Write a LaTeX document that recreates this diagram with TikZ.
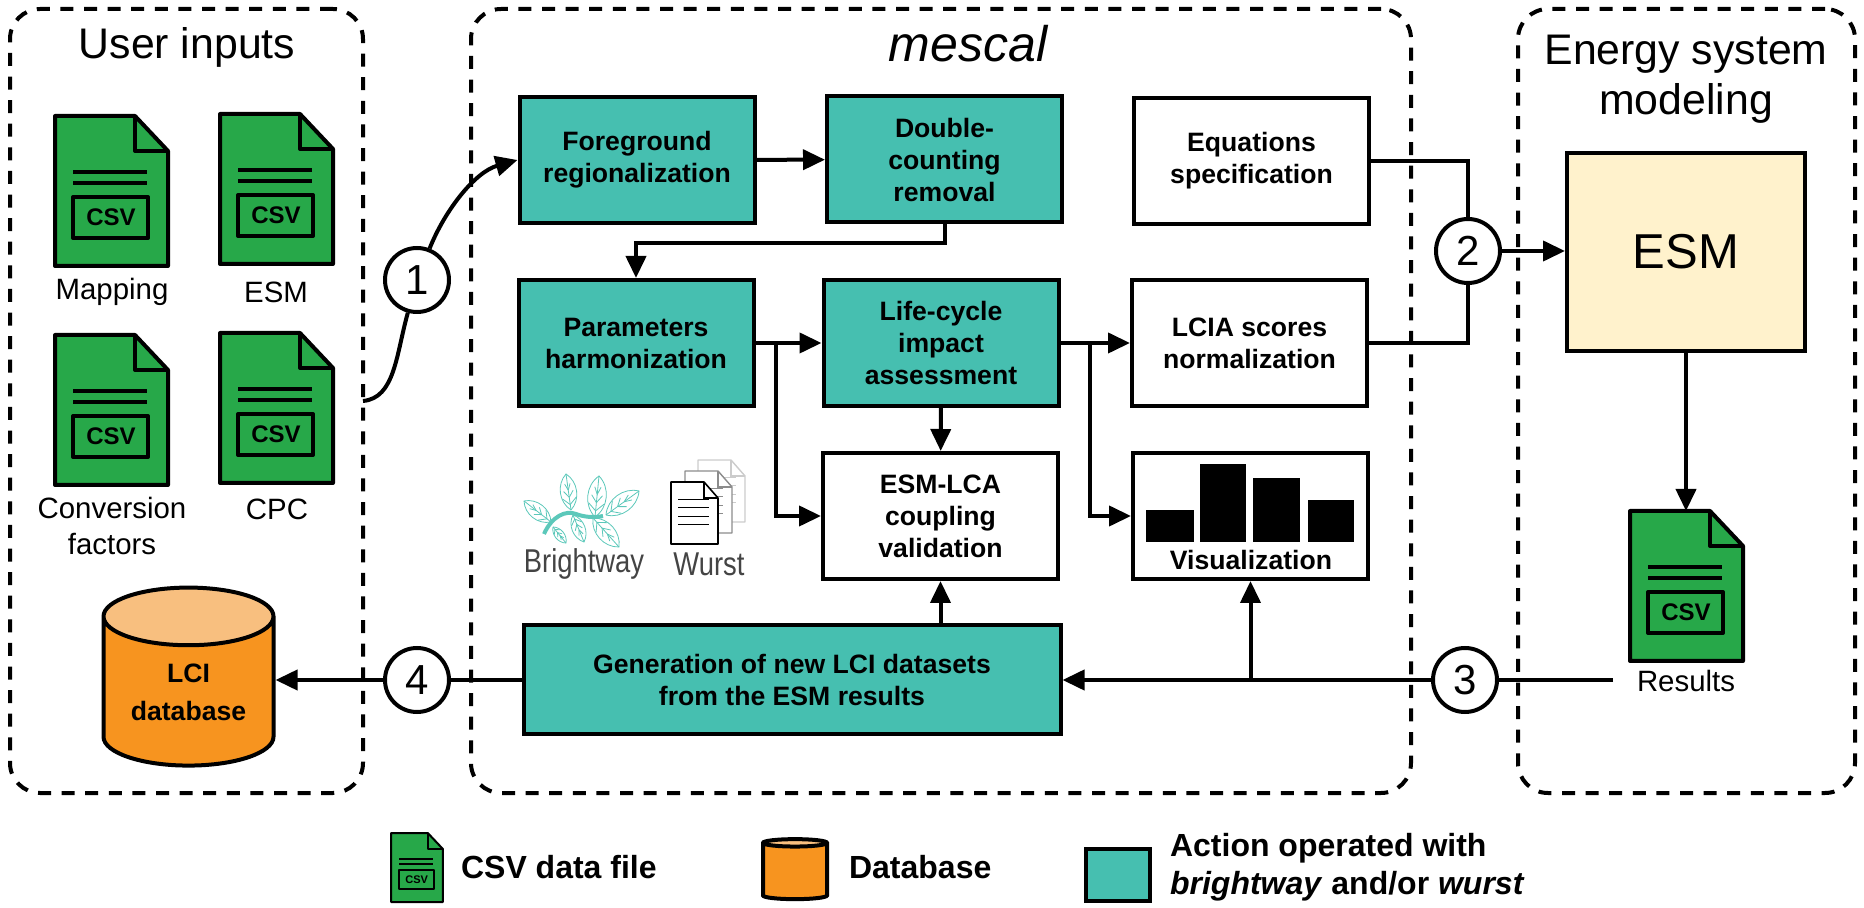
\documentclass[tikz,border=0pt]{standalone}
\usepackage{fontspec}
\setmainfont{Liberation Sans}
\usetikzlibrary{arrows.meta,shapes.geometric,calc}

\definecolor{filegreen}{HTML}{27A849}
\definecolor{actionteal}{HTML}{46BFB0}
\definecolor{dborange}{HTML}{F7941F}
\definecolor{dbtop}{HTML}{F8BF7F}
\definecolor{esmcream}{HTML}{FFF2CC}
\definecolor{leafteal}{HTML}{5CC8BA}
\definecolor{logotext}{HTML}{444444}

\tikzset{
    lw/.style={line width=2pt},
    arr/.style={lw, -{Triangle[length=11pt,width=10pt]}},
    link/.style={lw},
    groupbox/.style={draw, line width=2pt, dash pattern=on 6.5pt off 5.3pt, rounded corners=15pt},
    boxtext/.style={font=\fontsize{13.3pt}{16pt}\selectfont\bfseries, align=center},
    plainbox/.style={draw, lw, fill=white, boxtext, minimum width=117.5pt, minimum height=63pt, inner sep=0pt},
    actionbox/.style={plainbox, fill=actionteal},
    stepnum/.style={circle, draw, lw, fill=white, minimum size=32pt, inner sep=0pt, font=\fontsize{21pt}{25pt}\selectfont},
    title/.style={font=\fontsize{21.4pt}{25pt}\selectfont, align=center},
    filelabel/.style={font=\fontsize{14.7pt}{18pt}\selectfont, align=center},
    legendtext/.style={font=\fontsize{16pt}{19.2pt}\selectfont\bfseries, align=left, anchor=west},
    logolabel/.style={font=\fontsize{16.5pt}{18pt}\selectfont, text=logotext, xscale=0.83, transform shape},
    dbshape/.style={cylinder, shape border rotate=90, draw, lw, aspect=0.5, cylinder uses custom fill,
        cylinder body fill=dborange, cylinder end fill=dbtop, inner sep=0pt, boxtext},
    leafline/.style={leafteal, line width=0.4pt},
    pics/csvfile/.style={code={
        \draw[fill=filegreen, line join=round] (0,0) -- (80,0) -- (113,35) -- (113,150) -- (0,150) -- cycle;
        \draw[line join=round] (80,0) -- (80,35) -- (113,35);
        \draw (18,56) -- (92,56);
        \draw (18,67) -- (92,67);
        \draw[line join=round] (18,81) rectangle (93,122);
        \node[transform shape, font=\fontsize{12pt}{14pt}\selectfont\bfseries, inner sep=0pt] (-csv) at (56,101) {CSV};
        \coordinate (-top) at (56,0);
    }},
    pics/notepage/.style={code={
        \draw[fill=white, line join=round] (0,0) -- (33,0) -- (47,16) -- (47,62) -- (0,62) -- cycle;
        \draw (33,0) -- (33,16) -- (47,16);
        \foreach \ly in {17,25,34,42}{
            \draw[line width=0.4pt] (7,\ly) -- (38,\ly);
        }
    }},
}

\begin{document}
\begin{tikzpicture}[x=0.5pt,y=-0.5pt]
    \useasboundingbox (0,0) rectangle (1864,908);

    % Dashed groups
    \node[groupbox, minimum width=176.5pt, minimum height=392pt] (userbox) at (186.5,401) {};
    \node[groupbox, minimum width=470pt, minimum height=392pt] (mescalbox) at (941,401) {};
    \node[groupbox, minimum width=168.5pt, minimum height=392pt] (esmsysbox) at (1686.5,401) {};
    \node[title] (usertitle) at (187,47) {User inputs};
    \node[title, font=\fontsize{25pt}{29pt}\selectfont\itshape] (mescaltitle) at (968,44) {mescal};
    \node[title] (esmtitle) at (1686,79) {Energy system\\modeling};

    % Input files
    \pic[lw] (mapfile) at (55,116) {csvfile};
    \pic[lw] (esmfile) at (220,114) {csvfile};
    \pic[lw] (convfile) at (55,335) {csvfile};
    \pic[lw] (cpcfile) at (220,333) {csvfile};
    \node[filelabel] (maplabel) at (112,292) {Mapping};
    \node[filelabel] (esmlabel) at (276,292) {ESM};
    \node[filelabel] (convlabel) at (112,526) {Conversion\\factors};
    \node[filelabel] (cpclabel) at (277,509) {CPC};

    % Process boxes
    \node[actionbox] (fore) at (637,160) {Foreground\\regionalization};
    \node[actionbox] (dbl) at (944.5,159.5) {Double-\\counting\\removal};
    \node[plainbox] (eqs) at (1251.5,161) {Equations\\specification};
    \node[actionbox] (param) at (636,343) {Parameters\\harmonization};
    \node[actionbox] (impact) at (941,343) {Life-cycle\\impact\\assessment};
    \node[plainbox] (scores) at (1249.5,343) {LCIA scores\\normalization};
    \node[plainbox] (coupling) at (940.5,516) {ESM-LCA\\coupling\\validation};
    \node[plainbox] (vis) at (1250.5,516) {};
    \node[actionbox, minimum width=268.5pt, minimum height=54.5pt] (gen) at (792,680) {Generation of new LCI datasets\\from the ESM results};

    % Bars of the chart
    \fill (1146,510) rectangle (1194,542);
    \fill (1200,464) rectangle (1246,542);
    \fill (1253,478) rectangle (1300,542);
    \fill (1308,500) rectangle (1354,542);
    \node[boxtext] (vislabel) at (1251,560) {Visualization};

    % Logos
    \foreach \bx/\by/\tx/\ty in {551/522/524/501, 571/510/566/474, 595/517/599/476, 606/515/639/491,
                                 593/518/619/547, 573/515/584/542, 553/527/566/543}{
        \coordinate (leafb) at (\bx,\by);
        \coordinate (leaft) at (\tx,\ty);
        \draw[leafline] (leafb) to[bend left=50] (leaft) to[bend left=50] (leafb);
        \draw[leafline] (leafb) -- (leaft);
        \foreach \v in {0.15,0.35,0.55}{
            \draw[leafline] ($(leafb)!\v!(leaft)$) -- ($(leafb)!\v+0.18!(leaft)!0.28!90:(leaft)$);
            \draw[leafline] ($(leafb)!\v!(leaft)$) -- ($(leafb)!\v+0.18!(leaft)!0.28!-90:(leaft)$);
        }
    }
    \draw[leafteal, line width=2pt] (544,534) .. controls (552,516) and (566,510) .. (576,514) .. controls (584,517) and (594,518) .. (603,516);
    \node[logolabel] (brightlabel) at (584,564) {Brightway};
    \pic[black!20, line width=0.7pt] (backpage) at (698,460) {notepage};
    \pic[black!45, line width=0.7pt] (midpage) at (685,471) {notepage};
    \pic[black, line width=0.8pt] (frontpage) at (671,482) {notepage};
    \node[logolabel] (wurstlabel) at (709,564) {Wurst};

    % Energy system side
    \node[draw, lw, fill=esmcream, minimum width=119pt, minimum height=99pt, font=\fontsize{24.5pt}{28pt}\selectfont] (esm) at (1686,252) {ESM};
    \pic[lw] (resfile) at (1630,511) {csvfile};
    \node[filelabel] (reslabel) at (1686,681) {Results};
    \coordinate (resend) at (1613,680);

    % Database
    \node[dbshape, font=\fontsize{13.3pt}{19pt}\selectfont\bfseries, minimum width=85pt, minimum height=89pt] (lci) at (188.5,692) {LCI\\database};

    % Step circles
    \node[stepnum] (step1) at (417,280) {1};
    \node[stepnum] (step2) at (1468,251) {2};
    \node[stepnum] (step3) at (1465,680) {3};
    \node[stepnum] (step4) at (417,680) {4};
    \coordinate (inputsend) at (363,401);

    % Connectors
    \draw[link] (inputsend) .. controls (395,398) and (396,355) .. (step1);
    \draw[arr] (step1) .. controls (445,210) and (475,172) .. (fore.west);
    \draw[arr] (fore) -- (dbl);
    \draw[arr] (dbl.south) -- ++(0,19) -| (param.north);
    \draw[arr] (param) -- (impact);
    \draw[arr] (impact) -- (scores);
    \draw[arr] (param.east) ++(20,0) |- (coupling.west);
    \draw[arr] (impact.east) ++(29,0) |- (vis.west);
    \draw[arr] (impact) -- (coupling);
    \draw[arr] (coupling.south |- gen.north) -- (coupling.south);
    \draw[link] (eqs.east) -| (step2);
    \draw[link] (scores.east) -| (step2);
    \draw[arr] (step2) -- (esm.west |- step2);
    \draw[arr] (esm.south) -- (resfile-top);
    \draw[link] (resend) -- (step3);
    \draw[arr] (step3) -- (gen.east);
    \draw[arr] (vis.south |- gen.east) -- (vis.south);
    \draw[link] (gen.west) -- (step4);
    \draw[arr] (step4) -- (lci.east |- step4);

    % Legend
    \pic[line width=1pt, scale=0.46] (legfile) at (391,833) {csvfile};
    \node[legendtext] (legfiletext) at (454,867) {CSV data file};
    \node[dbshape, minimum width=32pt, minimum height=30pt] (legdb) at (795,872) {\phantom{x}};
    \node[legendtext] (legdbtext) at (842,867) {Database};
    \node[actionbox, minimum width=32pt, minimum height=26pt] (legact) at (1118,874.5) {};
    \node[legendtext] (legacttext) at (1163,867) {Action operated with\\\textit{brightway} and/or \textit{wurst}};
\end{tikzpicture}
\end{document}
